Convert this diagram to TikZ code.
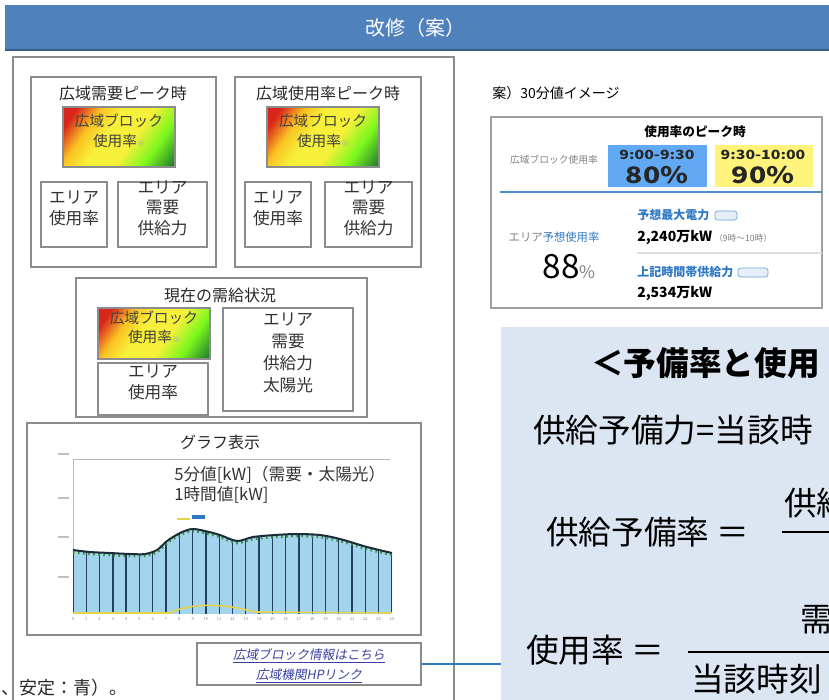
\documentclass[tikz,border=0pt]{standalone}
\usepackage{fontspec}
\setmainfont{Noto Sans CJK JP}
\newfontfamily\slantjp[FakeSlant=0.18]{Noto Sans CJK JP}
\newfontfamily\cellfont[FakeStretch=1.25]{Noto Sans CJK JP}
\usetikzlibrary{positioning,fit}

\definecolor{barblue}{HTML}{4F81BD}
\definecolor{bardark}{HTML}{385D8A}
\definecolor{framegray}{HTML}{8C8C8C}
\definecolor{chartfill}{HTML}{A3D4EE}
\definecolor{chartbar}{HTML}{24415F}
\definecolor{chartline}{HTML}{1C2B38}
\definecolor{dotgreen}{HTML}{3E8E3E}
\definecolor{solar}{HTML}{E3D34A}
\definecolor{panelblue}{HTML}{DCE6F2}
\definecolor{cellblue}{HTML}{62A9F3}
\definecolor{cellyellow}{HTML}{FFF37C}
\definecolor{textblue}{HTML}{2F78C4}
\definecolor{linkblue}{HTML}{3A3F9E}
\definecolor{rulegray}{HTML}{DDDDDD}
\definecolor{shadeRed}{HTML}{D9261C}
\definecolor{shadeYellow}{HTML}{F7F03A}
\definecolor{shadeGreen}{HTML}{1E7A2E}

\pgfdeclarehorizontalshading{usageshade}{100bp}{color(0bp)=(shadeRed); color(22bp)=(shadeRed);
  color(33bp)=(shadeYellow!60!orange); color(43bp)=(shadeYellow); color(57bp)=(shadeYellow);
  color(70bp)=(shadeYellow!50!green); color(84bp)=(shadeGreen); color(100bp)=(shadeGreen)}

\begin{document}
\begin{tikzpicture}[x=0.75pt, y=-0.75pt,
    frame/.style={draw=framegray, line width=0.9pt, inner sep=0pt},
    gradbox/.style={frame, shading=usageshade, shading angle=-35, align=center,
        text=black!75, font=\fontsize{11}{14.5}\selectfont},
    areabox/.style={frame, align=center, text=black!80, font=\fontsize{12.5}{15.5}\selectfont},
    boxtitle/.style={inner sep=0pt, text=black!85, font=\fontsize{12}{12}\selectfont},
    ruletext/.style={anchor=west, inner sep=0pt, font=\fontsize{24.5}{24.5}\selectfont},
    bluehead/.style={anchor=west, inner sep=0pt, text=textblue, font=\fontsize{9}{9}\selectfont\bfseries},
    figure/.style={anchor=west, inner sep=0pt, font=\fontsize{10.5}{10.5}\selectfont\bfseries},
    tagbox/.style={draw=textblue!70, fill=textblue!12, rounded corners=2pt, line width=0.5pt, inner sep=0pt},
    linktext/.style={inner sep=0pt, text=linkblue, font=\fontsize{9.5}{9.5}\selectfont\slantjp}]
    \useasboundingbox (0,0) rectangle (829,700);
    \clip (0,0) rectangle (829,700);

    % title bar
    \node[fit={(5,5) (835,50)}, inner sep=0pt, fill=barblue] (titleBar) {};
    \draw[bardark, line width=1.5pt] (titleBar.south west) -- (titleBar.south east);
    \node[text=white, font=\fontsize{15}{15}\selectfont] (titleText) at (415,28) {改修（案）};

    % left frame
    \node[frame, fit={(13,57) (454,710)}] (leftFrame) {};

    % demand peak
    \node[frame, fit={(31,77) (216,267)}] (demandPeak) {};
    \node[boxtitle] (demandTitle) at (123,93) {広域需要ピーク時};
    \node[gradbox, fit={(63,107) (175,167)}] (demandRate) {広域ブロック\\使用率{\fontsize{6}{6}\selectfont\color{black!35}※}};
    \node[areabox, fit={(41,182) (107,247)}] (demandArea) {エリア\\使用率};
    \node[areabox, fit={(118,182) (207,247)}] (demandSupply) {エリア\\需要\\供給力};

    % usage peak
    \node[frame, fit={(235,77) (421,267)}] (usagePeak) {};
    \node[boxtitle] (usageTitle) at (328,93) {広域使用率ピーク時};
    \node[gradbox, fit={(267,107) (379,167)}] (usageRate) {広域ブロック\\使用率{\fontsize{6}{6}\selectfont\color{black!35}※}};
    \node[areabox, fit={(245,182) (311,247)}] (usageArea) {エリア\\使用率};
    \node[areabox, fit={(325,182) (412,247)}] (usageSupply) {エリア\\需要\\供給力};

    % current state
    \node[frame, fit={(76,278) (367,417)}] (nowState) {};
    \node[boxtitle] (nowTitle) at (220,295) {現在の需給状況};
    \node[gradbox, fit={(98,308) (210,359)}] (nowRate) {広域ブロック\\使用率{\fontsize{6}{6}\selectfont\color{black!35}※}};
    \node[areabox, fit={(98,363) (208,415)}] (nowArea) {エリア\\使用率};
    \node[areabox, font=\fontsize{12.5}{16.5}\selectfont, fit={(223,308) (353,411)}] (nowSupply) {エリア\\需要\\供給力\\太陽光};

    % graph
    \node[frame, fit={(27,423) (421,635)}] (graphBox) {};
    \node[boxtitle] (graphTitle) at (220,442) {グラフ表示};
    \draw[gray!55, line width=0.6pt] (73,459) -- (390,459);
    \draw[gray!55, line width=0.6pt] (73,459) -- (73,614);
    \foreach \yy in {454,498,537,577}
        \draw[gray!50, line width=1.2pt] (58,\yy) -- (69,\yy);
    \begin{scope}
        \clip plot[smooth] coordinates {(73,550) (90,552) (110,553) (130,554) (145,554) (157,550) (167,541)
            (180,533) (192,529) (205,531) (220,535) (237,541) (253,537) (275,535) (297,534) (320,535)
            (340,539) (367,547) (392,553)} -- (392,614) -- (73,614) -- cycle;
        \fill[chartfill] (60,450) rectangle (400,614);
        \foreach \k in {0,...,24}
            \draw[chartbar, line width=1pt] ({73+\k*13.29},500) -- ({73+\k*13.29},614);
    \end{scope}
    \draw[solar, line width=1.2pt] (73,613) -- (170,613) .. controls (190,603) and (222,603) .. (255,612) -- (392,613);
    \draw[dotgreen, line width=2pt, dash pattern=on 1.2pt off 2.6pt, yshift=-1.5pt]
        plot[smooth] coordinates {(73,550) (90,552) (110,553) (130,554) (145,554) (157,550) (167,541)
            (180,533) (192,529) (205,531) (220,535) (237,541) (253,537) (275,535) (297,534) (320,535)
            (340,539) (367,547) (392,553)};
    \draw[chartline, line width=1.5pt]
        plot[smooth] coordinates {(73,550) (90,552) (110,553) (130,554) (145,554) (157,550) (167,541)
            (180,533) (192,529) (205,531) (220,535) (237,541) (253,537) (275,535) (297,534) (320,535)
            (340,539) (367,547) (392,553)};
    \foreach \k in {0,...,24}
        \node[inner sep=0pt, text=gray, font=\fontsize{3}{3}\selectfont] (hour\k) at ({73+\k*13.29},619) {\k};
    \draw[solar, line width=2pt] (177,519) -- (190,519);
    \draw[textblue, line width=3pt] (192,517) -- (205,517);
    \node[anchor=west, inner sep=0pt, text=black!80, font=\fontsize{12.5}{12.5}\selectfont] (fiveMin) at (174,475) {5分値[kW]（需要・太陽光）};
    \node[anchor=west, inner sep=0pt, text=black!80, font=\fontsize{12.5}{12.5}\selectfont] (oneHour) at (174,495) {1時間値[kW]};

    % link box
    \node[frame, fit={(197,643) (421,685)}] (hpLink) {};
    \node[linktext] (linkTop) at (309,656) {\underline{広域ブロック情報はこちら}};
    \node[linktext] (linkBottom) at (309,676) {\underline{広域機関HPリンク}};

    \node[anchor=west, inner sep=0pt, text=black!85, font=\fontsize{13.5}{13.5}\selectfont] (colorNote) at (1,688) {、安定：青）。};

    % 30 min sample
    \node[anchor=west, inner sep=0pt, font=\fontsize{10.5}{10.5}\selectfont] (sampleTitle) at (492,93) {案）30分値イメージ};
    \node[frame, draw=gray!75, fit={(491,117) (822,308)}] (sampleTable) {};
    \node[inner sep=0pt, font=\fontsize{9.5}{9.5}\selectfont\bfseries] (peakLabel) at (695,132) {使用率のピーク時};
    \node[inner sep=0pt, text=gray, font=\fontsize{7.3}{7.3}\selectfont] (blockLabel) at (554,160) {広域ブロック使用率};
    \node[fit={(608,145) (707,187)}, fill=cellblue, inner sep=0pt] (cellFirst) {};
    \node[fit={(715,145) (813,187)}, fill=cellyellow, inner sep=0pt] (cellSecond) {};
    \node[inner sep=0pt, text=black!85, font=\fontsize{9.5}{9.5}\cellfont\bfseries] (timeFirst) at (657,155) {9:00-9:30};
    \node[inner sep=0pt, text=black!85, font=\fontsize{17}{17}\cellfont\bfseries] (rateFirst) at (657,175) {80\%};
    \node[inner sep=0pt, text=black!85, font=\fontsize{9.5}{9.5}\cellfont\bfseries] (timeSecond) at (763,155) {9:30-10:00};
    \node[inner sep=0pt, text=black!85, font=\fontsize{17}{17}\cellfont\bfseries] (rateSecond) at (763,175) {90\%};
    \draw[textblue!85, line width=1.2pt] (500,192) -- (822,192);
    \node[inner sep=0pt, font=\fontsize{8.5}{8.5}\selectfont] (areaForecast) at (554,237) {\textcolor{gray}{エリア}\textcolor{textblue}{予想使用率}};
    \node[inner sep=0pt] (areaValue) at (569,267) {\fontsize{25}{25}\selectfont 88{\fontsize{13}{13}\selectfont\color{gray}\%}};
    \node[bluehead] (maxLabel) at (637,215) {予想最大電力};
    \node[tagbox, fit={(715,211) (737,220)}] (maxTag) {};
    \node[figure] (maxValue) at (637,237) {2,240万kW};
    \node[anchor=west, inner sep=0pt, text=gray, font=\fontsize{6.5}{6.5}\selectfont] (maxTime) at (714,238) {（9時～10時）};
    \draw[rulegray, line width=0.8pt] (637,253) -- (822,253);
    \node[bluehead] (supplyLabel) at (637,272) {上記時間帯供給力};
    \node[tagbox, fit={(738,268) (768,277)}] (supplyTag) {};
    \node[figure] (supplyValue) at (637,293) {2,534万kW};

    % definitions panel
    \node[fill=panelblue, fit={(501,327) (835,705)}, inner sep=0pt] (rulePanel) {};
    \draw[textblue, line width=1.4pt] (hpLink.east) -- (hpLink.east -| rulePanel.west);
    \node[ruletext, font=\fontsize{24.5}{24.5}\selectfont\bfseries] (ruleTitle) at (591,363) {＜予備率と使用};
    \node[ruletext] (reserveDef) at (533,430) {供給予備力=当該時};
    \node[ruletext] (reserveRate) at (546,532) {供給予備率 ＝};
    \draw[line width=1.4pt] (782,532) -- (835,532);
    \node[ruletext] (reserveNum) at (784,503) {供給};
    \node[ruletext] (usageRateDef) at (526,650) {使用率 ＝};
    \draw[line width=1.4pt] (688,652) -- (835,652);
    \node[ruletext] (usageNum) at (800,620) {需};
    \node[ruletext] (usageDen) at (691,679) {当該時刻};
\end{tikzpicture}
\end{document}
